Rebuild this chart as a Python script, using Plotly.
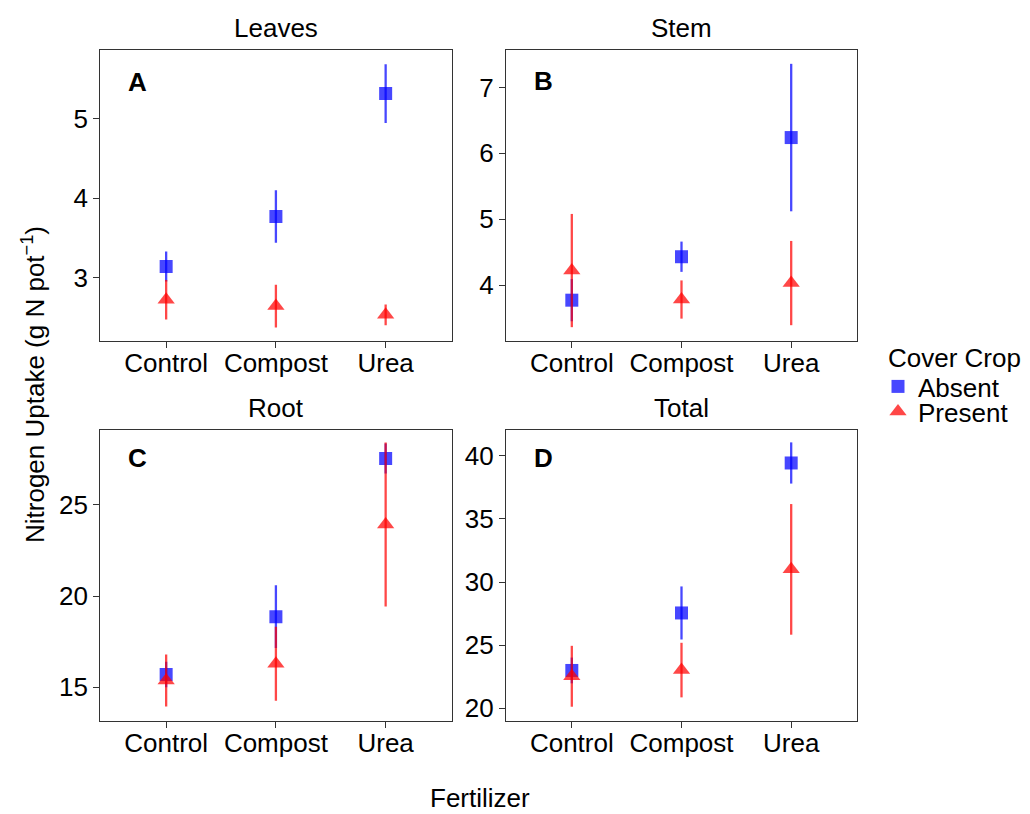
import plotly.graph_objects as go

# Fertilizer treatments on the x axis
fertilizer = ["Control", "Compost", "Urea"]

# Nitrogen uptake means and standard errors (g N pot^-1)
leaves_absent = [3.14, 3.77, 5.32]
leaves_absent_se = [0.19, 0.33, 0.37]
leaves_present = [2.72, 2.64, 2.53]
leaves_present_se = [0.25, 0.27, 0.13]

stem_absent = [3.77, 4.43, 6.24]
stem_absent_se = [0.32, 0.23, 1.12]
stem_present = [4.22, 3.78, 4.03]
stem_present_se = [0.86, 0.29, 0.64]

root_absent = [15.70, 18.87, 27.55]
root_absent_se = [0.70, 1.72, 0.82]
root_present = [15.37, 16.29, 23.93]
root_present_se = [1.43, 2.03, 4.50]

total_absent = [23.00, 27.55, 39.42]
total_absent_se = [1.02, 2.10, 1.63]
total_present = [22.54, 23.03, 31.00]
total_present_se = [2.41, 2.16, 5.17]

W, H = 1030, 814
FONT = "Liberation Sans, Arial, sans-serif"
BLUE = "rgba(0,0,255,0.72)"
RED = "rgba(255,0,0,0.72)"
FRAME = "#333333"

x_left = [100.3 / W, 451.5 / W]
x_right = [506.0 / W, 857.0 / W]
y_top = [1 - 341.0 / H, 1 - 50.0 / H]
y_bottom = [1 - 721.0 / H, 1 - 430.0 / H]

panels = [
    dict(title="Leaves", tag="A", absent=leaves_absent, absent_se=leaves_absent_se,
         present=leaves_present, present_se=leaves_present_se,
         xd=x_left, yd=y_top, yrange=[2.20, 5.87], dtick=1, tag_y=0.890),
    dict(title="Stem", tag="B", absent=stem_absent, absent_se=stem_absent_se,
         present=stem_present, present_se=stem_present_se,
         xd=x_right, yd=y_top, yrange=[3.15, 7.57], dtick=1, tag_y=0.895),
    dict(title="Root", tag="C", absent=root_absent, absent_se=root_absent_se,
         present=root_present, present_se=root_present_se,
         xd=x_left, yd=y_bottom, yrange=[13.15, 29.11], dtick=5, tag_y=0.905),
    dict(title="Total", tag="D", absent=total_absent, absent_se=total_absent_se,
         present=total_present, present_se=total_present_se,
         xd=x_right, yd=y_bottom, yrange=[19.0, 42.03], dtick=5, tag_y=0.904),
]

fig = go.Figure()
annotations = []

for i, p in enumerate(panels, start=1):
    sfx = "" if i == 1 else str(i)
    xa, ya = "x" + sfx, "y" + sfx
    fig.add_trace(go.Scatter(
        x=fertilizer, y=p["absent"], mode="markers", name="Absent",
        legendgroup="Absent", showlegend=(i == 1), legend="legend",
        marker=dict(symbol="square", size=13, color=BLUE, line=dict(width=0)),
        error_y=dict(type="data", array=p["absent_se"], color=BLUE,
                     thickness=2.3, width=0),
        xaxis=xa, yaxis=ya,
    ))
    fig.add_trace(go.Scatter(
        x=fertilizer, y=p["present"], mode="markers", name="Present",
        legendgroup="Present", showlegend=(i == 1), legend="legend2",
        marker=dict(symbol="triangle-up", size=15, color=RED, line=dict(width=0)),
        error_y=dict(type="data", array=p["present_se"], color=RED,
                     thickness=2.3, width=0),
        xaxis=xa, yaxis=ya,
    ))
    axis_common = dict(
        showline=True, mirror=True, linecolor=FRAME, linewidth=1.3,
        ticks="outside", ticklen=6, tickwidth=1.3, tickcolor=FRAME,
        showgrid=False, zeroline=False, automargin=False,
        tickfont=dict(family=FONT, size=26, color="black"),
    )
    fig.layout["xaxis" + sfx] = dict(
        axis_common, domain=p["xd"], anchor=ya, type="category",
        categoryorder="array", categoryarray=fertilizer, range=[-0.6, 2.6],
        ticklabelstandoff=-7,
    )
    fig.layout["yaxis" + sfx] = dict(
        axis_common, domain=p["yd"], anchor=xa, range=p["yrange"],
        dtick=p["dtick"], tick0=0,
    )
    # Panel title above each frame
    annotations.append(dict(
        text=p["title"], xref="paper", yref="paper",
        x=(p["xd"][0] + p["xd"][1]) / 2, y=p["yd"][1] + 22.0 / H,
        xanchor="center", yanchor="middle", showarrow=False,
        font=dict(family=FONT, size=26, color="black"),
    ))
    # Bold panel letter in the upper-left corner
    annotations.append(dict(
        text="<b>" + p["tag"] + "</b>", xref=xa + " domain", yref=ya + " domain",
        x=0.107, y=p["tag_y"], xanchor="center", yanchor="middle", showarrow=False,
        font=dict(family=FONT, size=26, color="black"),
    ))

annotations.append(dict(
    text="Fertilizer", xref="paper", yref="paper", x=480.0 / W, y=1 - 798.0 / H,
    xanchor="center", yanchor="middle", showarrow=False,
    font=dict(family=FONT, size=26, color="black"),
))
annotations.append(dict(
    text="Nitrogen Uptake (g N pot<sup>\u22121</sup>)", xref="paper", yref="paper",
    x=33.0 / W, y=1 - 385.0 / H, textangle=-90,
    xanchor="center", yanchor="middle", showarrow=False,
    font=dict(family=FONT, size=26, color="black"),
))
# Legend heading
annotations.append(dict(
    text="Cover Crop", xref="paper", yref="paper", x=886.0 / W, y=1 - 358.0 / H,
    xanchor="left", yanchor="middle", showarrow=False,
    font=dict(family=FONT, size=26, color="black"),
))

legend_common = dict(
    font=dict(family=FONT, size=26, color="black"),
    xanchor="left", yanchor="top", itemsizing="trace",
    bgcolor="rgba(0,0,0,0)", tracegroupgap=0,
)

fig.update_layout(
    width=W, height=H,
    margin=dict(l=0, r=0, t=0, b=0),
    paper_bgcolor="white", plot_bgcolor="white",
    font=dict(family=FONT, size=26, color="black"),
    annotations=annotations,
    legend=dict(legend_common, x=878.0 / W, y=1 - 363.0 / H),
    legend2=dict(legend_common, x=878.0 / W, y=1 - 388.0 / H),
)

fig.write_html("out.html")
